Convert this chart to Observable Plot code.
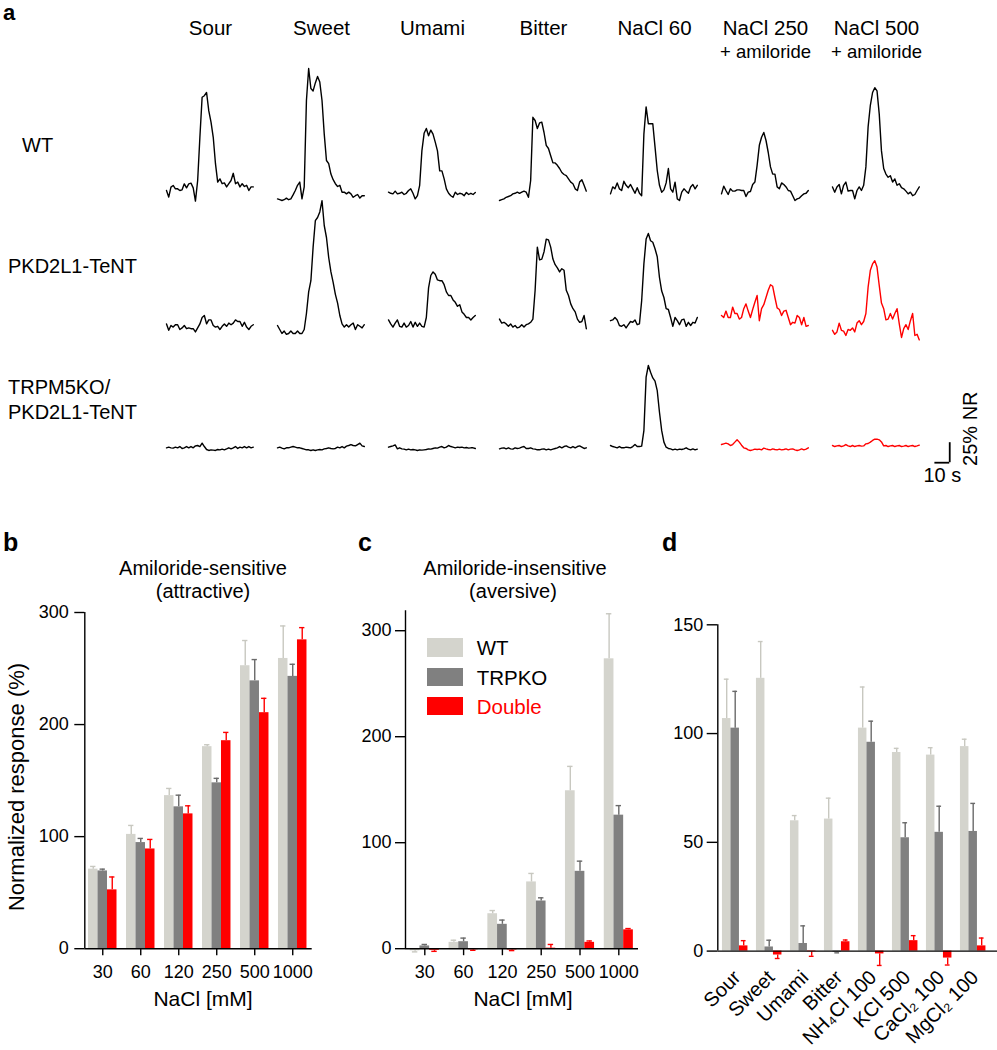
<!DOCTYPE html>
<html><head><meta charset="utf-8">
<script src="https://cdn.jsdelivr.net/npm/d3@7"></script>
<script src="https://cdn.jsdelivr.net/npm/@observablehq/plot@0.6"></script>
<style>
body{margin:0;background:#fff;}
#fig{position:relative;width:997px;height:1050px;font-family:"Liberation Sans",Arial,Helvetica,"DejaVu Sans",sans-serif;color:#000;overflow:hidden;background:#fff;}
.abs{position:absolute;white-space:nowrap;line-height:1;}
.pl{position:absolute;}
</style></head><body><div id="fig"></div>
<script>
const FONT = '"Liberation Sans", Arial, Helvetica, "DejaVu Sans", sans-serif';
const RED = "#ff0000";

// ---------- panel a : calcium traces ----------
const stimuli = ["Sour","Sweet","Umami","Bitter","NaCl 60","NaCl 250","NaCl 500"];
const stimulusNotes = ["","","","","","+ amiloride","+ amiloride"];
const genotypes = ["WT","PKD2L1-TeNT","TRPM5KO/PKD2L1-TeNT"];
const sampleStep = 1.5; // seconds between samples

const wtSour = [2.5,-5.8,6.7,8.8,4.6,4.6,2.5,3.3,10.8,5.8,10.8,11.7,5.8,-10.8,15,69,119,121,125,102,88,69,36,13,17,11,12,7,11,15,24,11,13,7,11,7.5,9,2.5,7,7];
const wtSweet = [-8,-9,-10,-9,-7,-9,-8,-3,2.5,9,13,-8,7,115,155,130,127,137,145,138,115,73,40,36,23,16,11,7.5,9,0.4,0.4,-1.7,0.4,-1.7,-6,-4,-2.5,-7,-4,-4];
const wtUmami = [0.4,-1,-1.7,1.7,-1.7,-1,0.4,-2.5,-1,2.5,4.6,-1,-8,-4,9,52,74,80,71,78,73,63,52,27,27,17,4.6,-1,-4,-6,0.4,-2.5,-1,-1.7,-4,0,-2.5,-1,-2.5,0];
const wtBitter = [-10,-9,-8,-6,-5,-4,-1.7,-1,0.4,-1,0.4,1.7,0.4,-6,15,94,90,80,87,88,75,59,55,46,37,37,34,30,25,22.5,21,17,13,11,4.6,2.5,13,16,9,1.7];
const wtNaCl60 = [-1.7,7,4.6,12,4.6,2.5,14,9,6,10,4.6,-1,6,-1,-4,73,107,86,86,86,57,27.5,9,0.4,3.3,12,30,4.6,0.4,13,-8,-10,0.4,4.6,1.7,-1,7,10,4.6,9];
const wtNaCl250 = [-1.7,8,2.5,-2.5,4.6,1.7,1.7,3.3,3.3,2.5,2.5,-5,0.4,1.2,10,13,34,59,69,75,65,50,32,23,23,7,4.6,12,10,7,2.5,1.7,-4,-10,-8,-7,-4,-1.7,-1,2.5];
const wtNaCl500 = [7,0.4,7,10,-1.7,9,13,1.7,2.5,2.5,-8,2.5,7,2.5,9,32,82,109,125,131,127,98,52,30,23,19,21,13,17,9,11,6,4.6,1.7,-1.7,0.4,-4,-2.5,2.5,7];

const pkdSour = [2,-6,0,-2,1,1,-5,-3,0,-4,-3,-4,-4,-8,-3,2,10,12.5,2,7,7,0,-2,-1,-5,-1,2,-1,3,1,3,7,5,5,-1,4,-2,-5,-1,1];
const pkdSweet = [0,-5,-10,-7,-11,-10,-7,-10,-10,-7,-10,-10,-5,15,42,56,98,131,135,142,156,125,110,85,67,54,39,28,12.5,2,-2,1,-2,1,3,-5,1,-1,-3,1];
const pkdUmami = [7,2,-2,3,7,-1,-2,3,-2,0,5,-2,4,-1,3,-1,-2,10,47,62.5,67,64,57,56,56,51,42,37.5,37.5,32,29,24,26,17,14,10,10,7,10,12.5];
const pkdBitter = [8,3,4,2,-1,2,-2,0,-3,-2,1,-2,1,2,4,8,44,98,82,83,92,108,107,98,83,76,72,67,71,69,44,37.5,27,21,17,8,4,5,12.5,-4];
const pkdNaCl60 = [6,7,10,7,0,-1,1,-3,1,5,4,7,1,2,31,77,108,115,106,104,96,86,60,43,35,21,20,10,-1,10,6,1,7,8,-1,4,0,4,3,10];
const pkdNaCl250 = [12.5,10,18,10,10,23,15,15,8,10,21,27,18,10,20,29,37.5,6,21,26,35,44,51,49,35,22,20,12.5,18,19,10,1,4,3,12.5,10,1,10,-1,0];
const pkdNaCl500 = [-6,-11,-8,3,-6,-7,-12.5,-5,-6,-3,-8,3,6,1,5,15,48,69,77,81,73,50,28,21,7,8,15,8,15,21,2,-15,-4,1,-5,6,15,-12.5,-11,-18];

const dkoSour = [-0.4,0.4,-0.4,-0.8,0.4,-0.4,1.2,-1.2,-0.4,1.2,-0.4,1.2,-0.4,2,2.5,1.2,5.4,1.2,-2.5,-3.7,-2.9,-3.3,-3.7,-2.5,-2.9,-2,-2.9,-1.7,-0.4,-1.7,-0.4,1.2,-1.2,0.4,-0.4,1.2,-0.4,1.2,-0.4,0.4];
const dkoSweet = [-0.4,0.4,-0.8,-1.7,-0.4,-0.4,0.4,1.2,0.4,-0.4,-0.4,-1.2,-2,-2.9,-2.9,-3.7,-2.9,-3.7,-2.9,-2.5,-2.9,-1.7,-1.2,-0.4,-1.2,-1.7,-1.2,0.4,-0.4,1.2,-0.4,1.7,2.5,3.7,2.5,2,3.7,5.4,2,1.2];
const dkoUmami = [0.4,1.2,2,3.3,-1.7,-0.4,-1.7,-2,-2.9,-2,-2.9,-2.5,-2.9,-3.7,-2.9,-3.3,-2.9,-2.5,-1.7,-2,-1.2,-0.4,-0.8,0.4,1.2,-0.4,0.4,2.5,1.2,0.4,-0.4,0.4,0,0.4,-0.4,0,-0.8,-0.4,-0.4,-1.2];
const dkoBitter = [-1.7,-0.8,-0.4,-1.7,-0.4,-1.7,-2,-0.4,-1.2,-0.8,0.4,1.2,-1.2,-1.2,-0.4,-1.7,-2,-2.9,-2.9,-2,-1.7,-2.9,-2,-2.9,-2,-1.2,-0.4,1.2,-0.4,1.2,2,0.4,-0.4,1.2,-0.4,1.2,2,0.4,-1.2,-0.4];
const dkoNaCl60 = [2.5,1.2,0.4,-0.4,1.2,-0.4,-0.4,0.4,0,-0.4,1.2,3.7,1.2,1.2,1.7,21,88,102.5,94,87,83,71,44,21,6.7,0.4,-1.2,-1.7,-2.9,-2,-2.9,-2,-2.5,-1.7,-0.4,-2,-2.9,-1.7,-2.9,-2];
const dkoNaCl250 = [3.7,4.6,5.4,4.6,2.5,3.7,6.7,9.6,6.7,2.9,-0.4,-1.2,-2.9,-3.7,-2.9,-2,-2.5,-2,-2.9,-0.8,-1.7,-2.5,-2.9,-1.7,-2.5,-2.9,-2,-2.9,-2.5,-1.7,-2.9,-2,-1.7,-2.9,-3.7,-2.9,-1.7,-2.9,-2,-0.4];
const dkoNaCl500 = [2.5,1.2,2,2.5,1.2,2,3.7,2,1.2,2.5,1.2,2,2.5,1.7,2,4.6,5,6.7,8.8,10.4,10.4,9.6,7,2,2.5,1.2,2,2.5,1.2,2,2.5,1.2,1.7,2.5,1.2,2,2.5,1.2,2,2.9];

const traceRows = [
  [wtSour, wtSweet, wtUmami, wtBitter, wtNaCl60, wtNaCl250, wtNaCl500],
  [pkdSour, pkdSweet, pkdUmami, pkdBitter, pkdNaCl60, pkdNaCl250, pkdNaCl500],
  [dkoSour, dkoSweet, dkoUmami, dkoBitter, dkoNaCl60, dkoNaCl250, dkoNaCl500]
];
const scaleBar = {stimulus: "NaCl 500", seconds: 10, percent: 25, endTime: 79, baseValue: -19};

// ---------- panel b / c : NaCl responses ----------
const naclConc = ["30","60","120","250","500","1000"];
const sensWT = [71, 102, 136.6, 180.3, 252.5, 259];
const sensWTsem = [2.4, 8, 6.4, 1.7, 22.5, 29];
const sensTRPKO = [69.4, 94.7, 126.6, 148, 239, 243];
const sensTRPKOsem = [1.6, 3.7, 10.4, 4, 19, 10.8];
const sensDouble = [52.5, 89, 120.3, 185.6, 210.6, 275.6];
const sensDoublesem = [11.5, 8.5, 7.2, 7.4, 12.8, 10.9];

const insWT = [-2, 6, 33, 63, 149, 273.5];
const insWTsem = [1, 2, 3, 8, 23, 42.5];
const insTRPKO = [2.6, 6.6, 23, 45, 73, 126];
const insTRPKOsem = [1.4, 3.4, 4, 3, 9.6, 9];
const insDouble = [-1.5, -1, -1.2, 0.5, 6, 17.8];
const insDoublesem = [1, 0.5, 0.6, 3.5, 1.3, 1.2];

// ---------- panel d : other tastants ----------
const tastants = ["Sour","Sweet","Umami","Bitter","NH\u2084Cl 100","KCl 500","CaCl\u2082 100","MgCl\u2082 100"];
const tasteWT = [106.9, 125.4, 59.9, 60.7, 102.5, 91.3, 90.1, 94];
const tasteWTsem = [18.1, 16.9, 2.4, 9.6, 18.9, 1.9, 3.4, 3.4];
const tasteTRPKO = [102.5, 1.9, 3.5, -0.5, 96, 52.1, 54.6, 55];
const tasteTRPKOsem = [16.9, 3.1, 8.1, 0.3, 9.7, 6.9, 12, 12.9];
const tasteDouble = [2.4, -1.8, -0.3, 4.3, -1.3, 4.8, -3.2, 2.4];
const tasteDoublesem = [2.4, 1.6, 2.1, 0.8, 5.3, 2.3, 3.2, 3.6];

const genoNames = ["WT","TRPKO","Double"];
const genoFill = ["#d4d4cd","#808080",RED];
const genoErr = ["#c8c8c0","#6a6a6a",RED];

// ---------- helpers ----------
const fig = document.getElementById("fig");
function place(node, left, top, w, h) {
  const d = document.createElement("div");
  d.className = "pl"; d.style.left = left + "px"; d.style.top = top + "px";
  d.style.width = w + "px"; d.style.height = h + "px";
  d.appendChild(node); fig.appendChild(d);
}
function label(txt, x, baseline, size, opt = {}) {
  const lh = opt.lineHeight || 1;
  const d = document.createElement("div");
  d.className = "abs"; d.textContent = txt;
  d.style.fontSize = size + "px";
  d.style.lineHeight = lh;
  d.style.left = x + "px";
  d.style.top = (baseline - ((lh - 1.117) / 2 + 0.905) * size) + "px";
  if (opt.bold) d.style.fontWeight = "bold";
  if (opt.color) d.style.color = opt.color;
  if (opt.anchor === "middle") d.style.transform = "translateX(-50%)";
  fig.appendChild(d);
}
const baseStyle = {fontFamily: FONT, background: "transparent", color: "#000", overflow: "visible"};

// ---------- panel a ----------
function traceRow(r, top, height, marginTop, yDomain, extras) {
  const rows = [];
  traceRows[r].forEach((arr, j) => arr.forEach((v, i) => rows.push({
    stim: stimuli[j], t: i * sampleStep, v,
    color: (r > 0 && stimulusNotes[j]) ? RED : "#000"
  })));
  const svg = Plot.plot({
    width: 997, height, marginTop, marginBottom: 0, marginLeft: 163, marginRight: 74.5,
    fx: {domain: stimuli, paddingInner: 0.2036, paddingOuter: 0, axis: null, label: null},
    x: {domain: [0, 59.3], axis: null},
    y: {domain: yDomain, axis: null},
    color: {type: "identity"},
    style: baseStyle,
    marks: [
      Plot.lineY(rows, {fx: "stim", x: "t", y: "v", z: "stim", stroke: "color", strokeWidth: 1.4, strokeLinejoin: "round"}),
      ...extras
    ]
  });
  place(svg, 0, top, 997, height);
}
const noted = stimuli.map((s, i) => ({s, note: stimulusNotes[i]})).filter(d => d.note);
traceRow(0, 0, 205, 55, [-16.25, 171.25], [
  Plot.text(stimuli, {fx: d => d, text: d => d, frameAnchor: "top", dy: -26.6, fontSize: 20.5, lineAnchor: "middle"}),
  Plot.text(noted, {fx: "s", text: "note", frameAnchor: "top", dy: -3.8, fontSize: 18.5, lineAnchor: "middle"})
]);
traceRow(1, 190, 155, 0, [-25, 168.75], []);
traceRow(2, 355, 135, 0, [-53.75, 115], [
  Plot.ruleY([scaleBar], {fx: "stimulus", y: "baseValue", x1: d => d.endTime - d.seconds, x2: "endTime", strokeWidth: 1.8}),
  Plot.ruleX([scaleBar], {fx: "stimulus", x: "endTime", y1: "baseValue", y2: d => d.baseValue + d.percent, strokeWidth: 1.8}),
  Plot.text([scaleBar], {fx: "stimulus", x: d => d.endTime - d.seconds / 2, y: "baseValue", dy: 13, text: d => `${d.seconds} s`, fontSize: 20, lineAnchor: "middle"}),
  Plot.text([scaleBar], {fx: "stimulus", x: "endTime", y: d => d.baseValue + d.percent, dx: 21, dy: -14, rotate: -90, text: d => `${d.percent}% NR`, fontSize: 20, lineAnchor: "middle"})
]);

label("a", 3, 20.5, 22, {bold: true});
label("WT", 22, 152, 20);
label("PKD2L1-TeNT", 8, 272.5, 20);
label("TRPM5KO/", 8, 393.5, 20);
label("PKD2L1-TeNT", 8, 419, 20);

// ---------- bar panels ----------
function barPanel(cfg) {
  const bars = [];
  cfg.cats.forEach((c, g) => cfg.series.forEach((s, j) => {
    const k = g * 4 + j, v = s.mean[g], e = s.sem[g];
    bars.push({k0: k, k1: k + 1, kc: k + 0.5, value: v, end: v < 0 ? v - e : v + e, fill: genoFill[j], err: genoErr[j]});
  }));
  const groups = cfg.cats.map((c, g) => ({name: c, center: g * 4 + 1.5}));
  const xLabels = cfg.rotate
    ? Plot.text(groups, {x: "center", text: "name", frameAnchor: "bottom", rotate: cfg.rotate, textAnchor: "end",
        lineAnchor: "middle", fontSize: cfg.xFont, dy: cfg.xLabelDy, dx: cfg.xLabelDx || 0, fill: "#000"})
    : Plot.axisX({ticks: groups.map(d => d.center), tickFormat: d => cfg.cats[Math.round((d - 1.5) / 4)],
        tickSize: cfg.xTickSize, tickPadding: cfg.xTickPadding, fontSize: cfg.xFont, label: null, strokeWidth: 1.4, fill: "#000"});
  const svg = Plot.plot({
    width: cfg.width, height: cfg.height,
    marginTop: cfg.mt, marginBottom: cfg.mb, marginLeft: cfg.ml, marginRight: cfg.mr,
    x: {domain: cfg.xDomain, axis: null},
    y: {domain: cfg.yDomain},
    color: {type: "identity"},
    style: baseStyle,
    marks: [
      Plot.rect(bars, {x1: "k0", x2: "k1", y1: () => 0, y2: "value", fill: "fill"}),
      Plot.ruleX(bars, {x: "kc", y1: "value", y2: "end", stroke: "err", strokeWidth: 1.4}),
      Plot.ruleY(bars, {y: "end", x1: d => d.kc - 0.28, x2: d => d.kc + 0.28, stroke: "err", strokeWidth: 1.4}),
      Plot.ruleY([0], {strokeWidth: 1.4}),
      Plot.ruleX([cfg.xDomain[0]], {strokeWidth: 1.4}),
      Plot.axisY({ticks: cfg.yTicks, tickSize: cfg.yTickSize, tickPadding: cfg.yTickPadding, fontSize: 18, label: null, strokeWidth: 1.4, fill: "#000"}),
      xLabels
    ]
  });
  place(svg, cfg.left, cfg.top, cfg.width, cfg.height);
}

barPanel({left: 0, top: 600, width: 330, height: 450, mt: 12, mb: 101.8, ml: 84.3, mr: 18.3,
  cats: naclConc, xDomain: [-0.39, 23.55], yDomain: [0, 300], yTicks: [0, 100, 200, 300],
  yTickSize: 10, yTickPadding: 6, xTickSize: 7, xTickPadding: 10, xFont: 18,
  series: [{mean: sensWT, sem: sensWTsem}, {mean: sensTRPKO, sem: sensTRPKOsem}, {mean: sensDouble, sem: sensDoublesem}]});

barPanel({left: 330, top: 600, width: 330, height: 450, mt: 10.3, mb: 101.8, ml: 75, mr: 22,
  cats: naclConc, xDomain: [-0.49, 23.53], yDomain: [0, 318.8], yTicks: [0, 100, 200, 300],
  yTickSize: 10, yTickPadding: 4, xTickSize: 7, xTickPadding: 10, xFont: 18,
  series: [{mean: insWT, sem: insWTsem}, {mean: insTRPKO, sem: insTRPKOsem}, {mean: insDouble, sem: insDoublesem}]});

barPanel({left: 660, top: 600, width: 337, height: 450, mt: 24.3, mb: 99.4, ml: 57.3, mr: 0,
  cats: tastants, xDomain: [-0.547, 32.36], yDomain: [0, 150], yTicks: [0, 50, 100, 150],
  yTickSize: 10.6, yTickPadding: 4, xFont: 20, rotate: -45, xLabelDy: 23, xLabelDx: 2,
  series: [{mean: tasteWT, sem: tasteWTsem}, {mean: tasteTRPKO, sem: tasteTRPKOsem}, {mean: tasteDouble, sem: tasteDoublesem}]});

// titles and labels of b, c, d
label("b", 3, 550.8, 25, {bold: true});
label("c", 358, 550.8, 25, {bold: true});
label("d", 662, 550.8, 25, {bold: true});
label("Amiloride-sensitive", 203, 575.3, 20, {anchor: "middle"});
label("(attractive)", 203, 598, 20, {anchor: "middle"});
label("Amiloride-insensitive", 515, 575.3, 20, {anchor: "middle"});
label("(aversive)", 513, 598, 20, {anchor: "middle"});
label("NaCl [mM]", 203, 1006, 21, {anchor: "middle"});
label("NaCl [mM]", 523, 1006, 21, {anchor: "middle"});
(function () {
  const d = document.createElement("div");
  d.className = "abs"; d.textContent = "Normalized response (%)";
  d.style.fontSize = "22px"; d.style.left = "17px"; d.style.top = "787px";
  d.style.transform = "translate(-50%,-50%) rotate(-90deg)";
  fig.appendChild(d);
})();
// legend (panel c)
const legendTop = [638.3, 668.1, 697.1];
genoNames.forEach((n, i) => {
  const sw = document.createElement("div");
  sw.className = "abs";
  sw.style.left = "426.7px"; sw.style.top = legendTop[i] + "px";
  sw.style.width = "36.6px"; sw.style.height = "18.3px"; sw.style.background = genoFill[i];
  fig.appendChild(sw);
  label(n, 476.7, legendTop[i] + 16.8, 20.5, {color: i === 2 ? RED : "#000"});
});
</script></body></html>
